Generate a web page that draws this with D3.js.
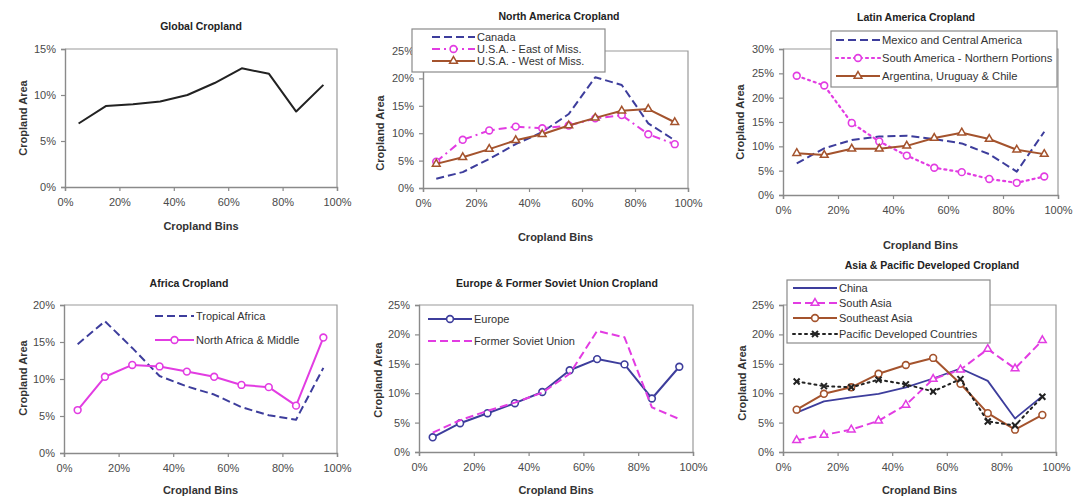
<!DOCTYPE html>
<html>
<head>
<meta charset="utf-8">
<script src="https://cdn.jsdelivr.net/npm/d3@7"></script>
<style>
  body { margin: 0; background: #fff; }
  svg { display: block; font-family: "Liberation Sans", Arial, sans-serif; }
</style>
</head>
<body>
<svg id="chart" width="1077" height="498"></svg>
<script>
// Cropland bins (bin centres, %)
const bins = [5, 15, 25, 35, 45, 55, 65, 75, 85, 95];
const xTicks = [0, 20, 40, 60, 80, 100];

// Series values (% of cropland area)
const globalCrop = [6.9, 8.8, 9.0, 9.3, 10.0, 11.3, 12.9, 12.3, 8.2, 11.1];

const canada = [1.7, 2.9, 5.3, 8.0, 10.2, 13.5, 20.2, 18.8, 11.8, 8.7];
const usaEast = [4.8, 8.8, 10.5, 11.2, 10.9, 11.4, 12.7, 13.3, 9.8, 8.0];
const usaWest = [4.4, 5.6, 7.1, 8.7, 9.8, 11.4, 12.8, 14.1, 14.4, 12.0];

const mexico = [6.5, 9.6, 11.3, 12.0, 12.2, 11.5, 10.6, 8.4, 4.8, 13.0];
const southAmerica = [24.5, 22.5, 14.8, 11.0, 8.1, 5.6, 4.7, 3.3, 2.5, 3.8];
const argentina = [8.6, 8.2, 9.5, 9.5, 10.1, 11.7, 12.8, 11.5, 9.3, 8.4];

const tropicalAfrica = [14.7, 17.8, 14.2, 10.4, 9.0, 7.9, 6.2, 5.1, 4.5, 11.5];
const northAfrica = [5.8, 10.3, 11.9, 11.7, 11.0, 10.3, 9.2, 8.9, 6.4, 15.6];

const europe = [2.5, 4.9, 6.6, 8.3, 10.2, 13.9, 15.8, 14.9, 9.1, 14.5];
const formerSoviet = [3.3, 5.4, 7.0, 8.4, 10.1, 13.3, 20.6, 19.5, 7.6, 5.6];

const china = [6.7, 8.6, 9.3, 9.9, 11.0, 12.5, 14.2, 12.1, 5.7, 9.5];
const southAsia = [2.0, 2.9, 3.8, 5.3, 8.0, 12.4, 14.0, 17.5, 14.2, 19.0];
const southeastAsia = [7.2, 9.9, 11.0, 13.3, 14.8, 16.0, 11.6, 6.6, 3.8, 6.3];
const pacific = [12.0, 11.2, 11.0, 12.3, 11.5, 10.3, 12.4, 5.2, 4.5, 9.4];

// Colours
const BLUE = '#3d3d9c';
const MAGENTA = '#e23ce2';
const BROWN = '#a4532d';
const BLACK = '#222';

// Line styles
const DASH = '8,4';
const DASHDOT = '8,4,2,4';
const DOT = '2,4';

const panels = [
  {
    title: 'Global Cropland', titleX: 201, titleY: 30,
    plot: { x0: 65, x1: 337, y0: 49, y1: 187 }, yMax: 15,
    yTitle: { x: 27, y: 118 }, xTitleY: 230,
    series: [{ values: globalCrop, color: BLACK, width: 2 }],
    legend: null
  },
  {
    title: 'North America Cropland', titleX: 559, titleY: 20,
    plot: { x0: 423, x1: 688, y0: 51, y1: 188 }, yMax: 25,
    yTitle: { x: 384, y: 133 }, xTitleY: 241,
    series: [
      { name: 'Canada', values: canada, color: BLUE, dash: DASH, width: 2 },
      { name: 'U.S.A. - East of Miss.', values: usaEast, color: MAGENTA, dash: DASHDOT, marker: 'circle', width: 2 },
      { name: 'U.S.A. - West of Miss.', values: usaWest, color: BROWN, marker: 'triangle', width: 2 }
    ],
    legend: { box: [412, 29, 605, 72], x0: 432, x1: 475, rows: [37, 49, 61], fontSize: 11 }
  },
  {
    title: 'Latin America Cropland', titleX: 916, titleY: 21,
    plot: { x0: 783, x1: 1058, y0: 49, y1: 195 }, yMax: 30,
    yTitle: { x: 744, y: 122 }, xTitleY: 249,
    series: [
      { name: 'Mexico and Central America', values: mexico, color: BLUE, dash: DASH, width: 2 },
      { name: 'South America - Northern Portions', values: southAmerica, color: MAGENTA, dash: DOT, marker: 'circle', width: 2.2 },
      { name: 'Argentina, Uruguay & Chile', values: argentina, color: BROWN, marker: 'triangle', width: 2 }
    ],
    legend: { box: [831, 31, 1057, 87], x0: 836, x1: 880, rows: [40, 58, 76], fontSize: 11.2 }
  },
  {
    title: 'Africa Cropland', titleX: 189, titleY: 287,
    plot: { x0: 64, x1: 337, y0: 305, y1: 453 }, yMax: 20,
    yTitle: { x: 27, y: 378 }, xTitleY: 494,
    series: [
      { name: 'Tropical Africa', values: tropicalAfrica, color: BLUE, dash: DASH, width: 2 },
      { name: 'North Africa & Middle', values: northAfrica, color: MAGENTA, marker: 'circle', width: 2 }
    ],
    legend: { box: null, x0: 155, x1: 194, rows: [316, 340], fontSize: 11 }
  },
  {
    title: 'Europe & Former Soviet Union Cropland', titleX: 557, titleY: 287,
    plot: { x0: 419, x1: 693, y0: 305, y1: 452 }, yMax: 25,
    yTitle: { x: 382, y: 380 }, xTitleY: 494,
    series: [
      { name: 'Europe', values: europe, color: BLUE, marker: 'circle', width: 2 },
      { name: 'Former Soviet Union', values: formerSoviet, color: MAGENTA, dash: DASH, width: 2 }
    ],
    legend: { box: null, x0: 428, x1: 472, rows: [319, 341], fontSize: 11 }
  },
  {
    title: 'Asia & Pacific Developed Cropland', titleX: 932, titleY: 269,
    plot: { x0: 783, x1: 1056, y0: 305, y1: 452 }, yMax: 25,
    yTitle: { x: 746, y: 383 }, xTitleY: 494,
    series: [
      { name: 'China', values: china, color: BLUE, width: 1.8 },
      { name: 'South Asia', values: southAsia, color: MAGENTA, dash: DASH, marker: 'triangle', width: 2 },
      { name: 'Southeast Asia', values: southeastAsia, color: BROWN, marker: 'circle', width: 2 },
      { name: 'Pacific Developed Countries', values: pacific, color: BLACK, dash: DOT, marker: 'cross', width: 2 }
    ],
    legend: { box: [787, 280, 990, 343], x0: 793, x1: 837, rows: [288, 303, 318, 334], fontSize: 11 }
  }
];

const svg = d3.select('#chart');

function drawMarker(g, type, cx, cy, color) {
  if (type === 'circle') {
    g.append('circle')
      .attr('cx', cx).attr('cy', cy).attr('r', 3.4)
      .attr('fill', '#fff').attr('stroke', color).attr('stroke-width', 1.6);
  } else if (type === 'triangle') {
    g.append('path')
      .attr('d', d3.symbol().type(d3.symbolTriangle).size(26)())
      .attr('transform', `translate(${cx},${cy})`)
      .attr('fill', '#fff').attr('stroke', color).attr('stroke-width', 1.5);
  } else if (type === 'cross') {
    g.append('path')
      .attr('d', 'M-3,-3L3,3M-3,3L3,-3')
      .attr('transform', `translate(${cx},${cy})`)
      .attr('fill', 'none').attr('stroke', color).attr('stroke-width', 2);
  }
}

panels.forEach(p => {
  const g = svg.append('g');
  const { x0, x1, y0, y1 } = p.plot;

  const x = d3.scaleLinear().domain([0, 100]).range([x0, x1]);
  const y = d3.scaleLinear().domain([0, p.yMax]).range([y1, y0]);
  const yTicks = d3.range(0, p.yMax + 0.1, 5);

  // plot frame (top and right)
  g.append('path')
    .attr('d', `M${x0},${y0}H${x1}V${y1}`)
    .attr('fill', 'none').attr('stroke', '#9a9a9a').attr('stroke-width', 1.2);

  // axes
  const yAxis = g.append('g')
    .attr('transform', `translate(${x0},0)`)
    .call(d3.axisLeft(y).tickValues(yTicks).tickSize(4).tickPadding(5).tickFormat(d => d + '%'));
  const xAxis = g.append('g')
    .attr('transform', `translate(0,${y1})`)
    .call(d3.axisBottom(x).tickValues(xTicks).tickSize(4).tickPadding(7).tickFormat(d => d + '%'));

  [yAxis, xAxis].forEach(a => {
    a.select('.domain').attr('stroke', '#8a8a8a').attr('stroke-width', 1.4);
    a.selectAll('.tick line').attr('stroke', '#8a8a8a').attr('stroke-width', 1.2);
    a.selectAll('.tick text')
      .attr('fill', '#4a4a4a')
      .style('font-size', '11px')
      .style('font-family', '"Liberation Sans", Arial, sans-serif');
  });

  // titles
  g.append('text')
    .attr('x', p.titleX).attr('y', p.titleY)
    .attr('text-anchor', 'middle')
    .style('font-size', '10.5px').style('font-weight', 'bold').attr('fill', '#222')
    .text(p.title);

  g.append('text')
    .attr('x', (x0 + x1) / 2).attr('y', p.xTitleY)
    .attr('text-anchor', 'middle')
    .style('font-size', '11px').style('font-weight', 'bold').attr('fill', '#333')
    .text('Cropland Bins');

  g.append('text')
    .attr('transform', `translate(${p.yTitle.x},${p.yTitle.y}) rotate(-90)`)
    .attr('text-anchor', 'middle')
    .style('font-size', '11px').style('font-weight', 'bold').attr('fill', '#333')
    .text('Cropland Area');

  // series
  const line = d3.line()
    .x((d, i) => x(bins[i]))
    .y(d => y(d));

  p.series.forEach(s => {
    g.append('path')
      .datum(s.values)
      .attr('d', line)
      .attr('fill', 'none')
      .attr('stroke', s.color)
      .attr('stroke-width', s.width)
      .attr('stroke-dasharray', s.dash || null)
      .attr('stroke-linecap', s.dash === DOT ? 'round' : 'butt')
      .attr('stroke-linejoin', 'round');
    if (s.marker) {
      s.values.forEach((v, i) => drawMarker(g, s.marker, x(bins[i]), y(v), s.color));
    }
  });

  // legend
  const L = p.legend;
  if (L) {
    if (L.box) {
      g.append('rect')
        .attr('x', L.box[0]).attr('y', L.box[1])
        .attr('width', L.box[2] - L.box[0]).attr('height', L.box[3] - L.box[1])
        .attr('fill', '#fff').attr('stroke', '#8a8a8a').attr('stroke-width', 1.2);
    }
    p.series.forEach((s, i) => {
      const ry = L.rows[i];
      g.append('line')
        .attr('x1', L.x0).attr('x2', L.x1).attr('y1', ry).attr('y2', ry)
        .attr('stroke', s.color).attr('stroke-width', s.width)
        .attr('stroke-dasharray', s.dash || null)
        .attr('stroke-linecap', s.dash === DOT ? 'round' : 'butt');
      if (s.marker) drawMarker(g, s.marker, (L.x0 + L.x1) / 2, ry, s.color);
      g.append('text')
        .attr('x', L.x1 + 2).attr('y', ry + 4)
        .style('font-size', L.fontSize + 'px').attr('fill', '#333')
        .text(s.name);
    });
  }
});
</script>
</body>
</html>
